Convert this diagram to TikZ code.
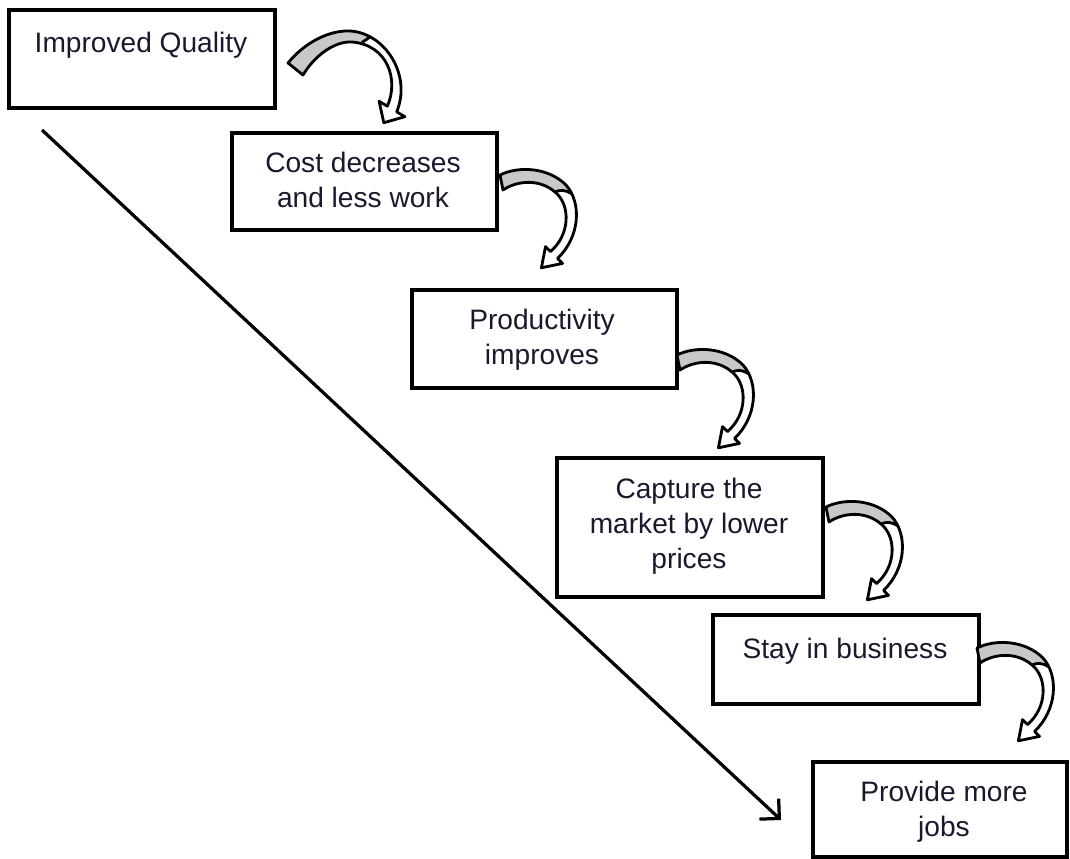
\documentclass[tikz,border=0pt]{standalone}
\usepackage{fontspec}
\setmainfont{Liberation Sans}
\usetikzlibrary{arrows.meta,fit}
\definecolor{ribbon}{RGB}{200,200,200}
\definecolor{txtc}{RGB}{25,25,45}
\newcommand{\bendarrow}[1]{%
  \begin{scope}[shift={(#1)}]
    \fill[white] (0,0) .. controls (18,-9) and (48,-8) .. (66,10) .. controls (82,28) and (80,62) .. (57.5,83.5) -- (62.5,88.4) -- (41.4,92.8) -- (45.5,71.6) -- (50.5,76.5) .. controls (70,60) and (71,30) .. (55,17) .. controls (40,4) and (18,5) .. (3,15) -- cycle;
    \fill[ribbon] (0,0) .. controls (18,-9) and (48,-8) .. (66,10) -- (72,19) .. controls (64,14) and (60,15) .. (55,17) .. controls (40,4) and (18,5) .. (3,15) -- cycle;
    \draw[ribbonline] (0,0) .. controls (18,-9) and (48,-8) .. (66,10) .. controls (82,28) and (80,62) .. (57.5,83.5) -- (62.5,88.4) -- (41.4,92.8) -- (45.5,71.6) -- (50.5,76.5) .. controls (70,60) and (71,30) .. (55,17) .. controls (40,4) and (18,5) .. (3,15) -- cycle;
    \draw[ribbonline] (72,19) .. controls (64,14) and (60,15) .. (55,17);
  \end{scope}}
\begin{document}
\begin{tikzpicture}[x=0.025cm,y=-0.025cm,
  box/.style={draw, line width=2.4pt, inner sep=0pt, rectangle},
  txt/.style={align=center, font=\fontsize{20}{25}\selectfont, inner sep=0pt, text=txtc},
  ribbonline/.style={line width=2pt, line join=round}]
\useasboundingbox (0,0) rectangle (1070,859);
\fill[white] (0,0) rectangle (1070,859);

% boxes
\node[box, fit={(9,10)(275,108)}] (b1) {};
\node[txt, anchor=base] (t1) at (141,53) {Improved Quality};
\node[box, fit={(232,133)(497,230)}] (b2) {};
\node[txt] (t2) at (363,180) {Cost decreases\\and less work};
\node[box, fit={(412,290)(677,388)}] (b3) {};
\node[txt] (t3) at (542,340) {Productivity\\improves};
\node[box, fit={(557,458)(823,597)}] (b4) {};
\node[txt] (t4) at (689,526) {Capture the\\market by lower\\prices};
\node[box, fit={(713,615)(979,704)}] (b5) {};
\node[txt, anchor=base] (t5) at (845,658) {Stay in business};
\node[box, fit={(813,762)(1067,857)}] (b6) {};
\node[txt] (t6) at (944,812) {Provide more\\jobs};

% long diagonal arrow
\coordinate (ls) at (42,130);
\coordinate (le) at (781,820);
\draw[line width=2.3pt, -{Straight Barb[length=10pt,width=20pt]}] (ls) -- (le);

% first curved arrow
\fill[white] (288,63) .. controls (305,42) and (330,30) .. (350,31) .. controls (385,33) and (412,75) .. (396.7,111.8) -- (404.9,116.7) -- (383.8,122.7) -- (379.1,101.3) -- (387.3,106.2) .. controls (399,80) and (388,45) .. (352,42) .. controls (335,41) and (315,55) .. (303,75) -- cycle;
\fill[ribbon] (288,63) .. controls (305,42) and (330,30) .. (350,31) -- (370,37) -- (362,42.5) -- (352,42) .. controls (335,41) and (315,55) .. (303,75) -- cycle;
\draw[ribbonline] (288,63) .. controls (305,42) and (330,30) .. (350,31) .. controls (385,33) and (412,75) .. (396.7,111.8) -- (404.9,116.7) -- (383.8,122.7) -- (379.1,101.3) -- (387.3,106.2) .. controls (399,80) and (388,45) .. (352,42) .. controls (335,41) and (315,55) .. (303,75) -- cycle;
\draw[ribbonline] (370,37) -- (362,42.5);

% other curved arrows
\coordinate (a2) at (500,175);
\coordinate (a3) at (677,355);
\coordinate (a4) at (826,507);
\coordinate (a5) at (977,648);
\bendarrow{a2}
\bendarrow{a3}
\bendarrow{a4}
\bendarrow{a5}
\end{tikzpicture}
\end{document}
